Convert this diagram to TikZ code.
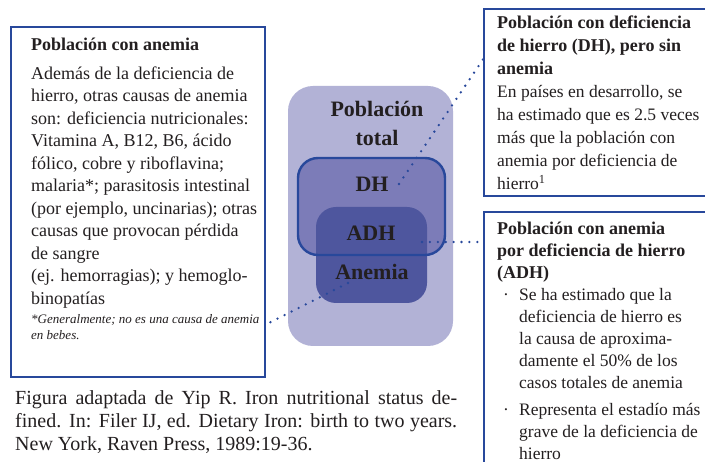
\documentclass[tikz,border=0pt]{standalone}
\usepackage{fontspec}
\setmainfont{Liberation Serif}
\usetikzlibrary{calc}
\definecolor{frameblue}{RGB}{40,72,155}
\definecolor{totalfill}{RGB}{178,178,214}
\definecolor{dhfill}{RGB}{124,124,184}
\definecolor{anfill}{RGB}{78,86,158}
\definecolor{ink}{RGB}{35,31,32}

\begin{document}
\begin{tikzpicture}[x=1pt, y=-1pt,
  infoframe/.style={frameblue, line width=2.4pt},
  dotline/.style={frameblue, line width=2.6pt, line cap=round, dash pattern=on 0pt off 7.9pt},
  setlabel/.style={font=\fontsize{22}{29}\selectfont\bfseries, text=ink, inner sep=2pt},
  txt/.style={anchor=north west, inner sep=0pt, align=left, text=ink, font=\fontsize{18}{22.5}\selectfont}]
\useasboundingbox (0,0) rectangle (705,462);
\fill[white] (0,0) rectangle (705,462);
% sets
\fill[totalfill, rounded corners=25pt] (288,86) rectangle (453,346);
\fill[dhfill, rounded corners=20pt] (298,158) rectangle (445,255);
\fill[anfill, rounded corners=20pt] (316,207) rectangle (427,303);
\draw[infoframe, rounded corners=20pt] (298,158) rectangle (445,255);
\node[setlabel, align=center] (total) at (377,123) {Población\\total};
\node[setlabel] (dh) at (372,184) {DH};
\node[setlabel] (adh) at (371,233) {ADH};
\node[setlabel] (anemia) at (372,272) {Anemia};
% boxes
\draw[infoframe] (11,27) rectangle (265,377);
\draw[infoframe] (708,9) -- (484,9) -- (484,196) -- (708,196);
\draw[infoframe] (708,212) -- (484,212) -- (484,465);
\coordinate (dhend) at (484,58);
\coordinate (adhend) at (484,242);
\coordinate (anend) at (265,325);
\draw[dotline] ($(dh.center)+(27,0)$) -- (dhend);
\draw[dotline] ($(adh.center)+(51,9)$) -- (adhend);
\draw[dotline] ($(anemia.center)+(-24,11)$) -- (anend);
% left box
\node[txt, font=\fontsize{18}{22}\selectfont\bfseries] (antitle) at (31,37.6) {Población con anemia};
\node[txt] (anbody) at (31,66.6) {Además de la deficiencia de\\hierro, otras causas de anemia\\son: deficiencia nutricionales:\\Vitamina A, B12, B6, ácido\\fólico, cobre y riboflavina;\\malaria*; parasitosis intestinal\\(por ejemplo, uncinarias); otras\\causas que provocan pérdida\\de sangre\\(ej. hemorragias); y hemoglo-\\binopatías};
\node[txt, font=\fontsize{13}{16}\selectfont\itshape] (annote) at (31,314) {*Generalmente; no es una causa de anemia\\en bebes.};
% right boxes
\node[txt, font=\fontsize{17.5}{23}\selectfont] (dhtext) at (497,15.6) {\textbf{\fontsize{18}{23}\selectfont Población con deficiencia}\\\textbf{\fontsize{18}{23}\selectfont de hierro (DH), pero sin}\\\textbf{\fontsize{18}{23}\selectfont anemia}\\En países en desarrollo, se\\ha estimado que es 2.5 veces\\más que la población con\\anemia por deficiencia de\\hierro\textsuperscript{1}};
\node[txt, font=\fontsize{17.5}{22}\selectfont] (adhtext) at (497,221.6) {\textbf{\fontsize{18}{22}\selectfont Población con anemia}\\\textbf{\fontsize{18}{22}\selectfont por deficiencia de hierro}\\\textbf{\fontsize{18}{22}\selectfont (ADH)}\\
\makebox[22pt][l]{\hspace{6pt}·}Se ha estimado que la\\\hspace*{22pt}deficiencia de hierro es\\\hspace*{22pt}la causa de aproxima-\\\hspace*{22pt}damente el 50\% de los\\\hspace*{22pt}casos totales de anemia\\[5pt]
\makebox[22pt][l]{\hspace{6pt}·}Representa el estadío más\\\hspace*{22pt}grave de la deficiencia de\\\hspace*{22pt}hierro};
% caption
\node[txt, font=\fontsize{20}{23}\selectfont] (caption) at (15,390) {\makebox[442pt][s]{Figura adaptada de Yip R. Iron nutritional status de-}\\\makebox[442pt][s]{fined. In: Filer IJ, ed. Dietary Iron: birth to two years.}\\New York, Raven Press, 1989:19-36.};
\end{tikzpicture}
\end{document}
